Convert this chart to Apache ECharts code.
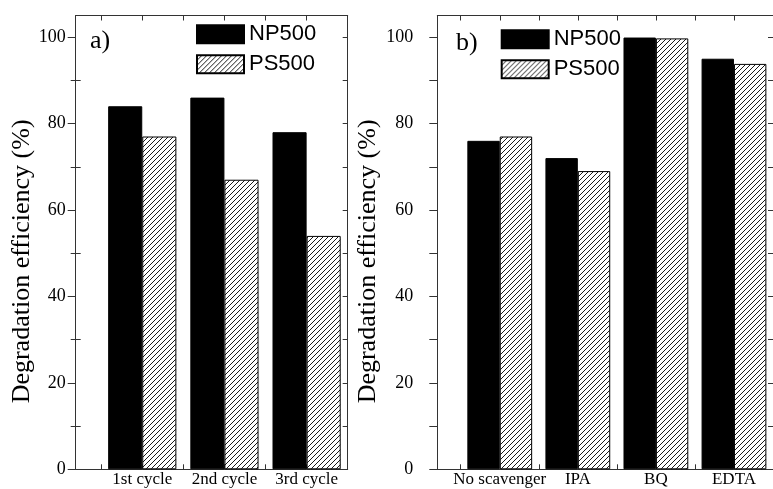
<!DOCTYPE html>
<html><head><meta charset="utf-8">
<script src="https://cdn.jsdelivr.net/npm/echarts@6/dist/echarts.min.js"></script>
<style>html,body{margin:0;padding:0;background:#fff}#c{width:773px;height:489px}</style>
</head><body><div id="c"></div>
<script>
// ---- data ----
const cycleCats = ['1st cycle', '2nd cycle', '3rd cycle'];
const cycleNP500 = [84, 86, 78];
const cyclePS500 = [77, 67, 54];
const scavCats = ['No scavenger', 'IPA', 'BQ', 'EDTA'];
const scavNP500 = [76, 72, 99.9, 95];
const scavPS500 = [77, 69, 99.7, 93.8];
const yMajorTicks = [0, 20, 40, 60, 80, 100];
const yMinorTicks = [10, 30, 50, 70, 90];
const seriesNames = ['NP500', 'PS500'];
const panelLabels = ['a)', 'b)'];
const yAxisTitle = 'Degradation efficiency (%)';

// ---- styles ----
const SERIF = 'Liberation Serif';
const SANS = 'Liberation Sans';
const LINE = '#333';
function hatch() {
  const s = 5, c = document.createElement('canvas');
  c.width = s; c.height = s;
  const g = c.getContext('2d');
  g.fillStyle = '#fff'; g.fillRect(0, 0, s, s);
  g.strokeStyle = '#000'; g.lineWidth = 0.9;
  g.beginPath(); g.moveTo(-1, s + 1); g.lineTo(s + 1, -1); g.stroke();
  g.beginPath(); g.moveTo(-1, 1); g.lineTo(1, -1); g.stroke();
  g.beginPath(); g.moveTo(s - 1, s + 1); g.lineTo(s + 1, s - 1); g.stroke();
  return c;
}
const hatchFill = { image: hatch(), repeat: 'repeat' };
const npStyle = { color: '#000', borderColor: '#000', borderWidth: 1 };
const psStyle = { color: hatchFill, borderColor: '#000', borderWidth: 1 };

const halfSteps = n => { const a = []; for (let v = 0.5; v <= n + 0.001; v += 0.5) a.push(v); return a; };
const idx = n => Array.from({ length: n }, (_, i) => i + 1);
const yAll = [...yMajorTicks, ...yMinorTicks].sort((a, b) => a - b);

const panels = [
  { cats: cycleCats, np: cycleNP500, ps: cyclePS500, left: 75.7, width: 272, xmin: 0.19, xmax: 3.5,
    labelMargin: 10, nameGap: 40, leftTickMode: 'mixed' },
  { cats: scavCats, np: scavNP500, ps: scavPS500, left: 437.3, width: 344, xmin: 0.2, xmax: 4.5,
    labelMargin: 24, nameGap: 56, leftTickMode: 'out' }
];
const gridTop = 15.5, gridHeight = 453.8;

const grid = [], xAxis = [], yAxis = [], series = [];
panels.forEach((p, g) => {
  grid.push({ left: p.left, top: gridTop, width: p.width, height: gridHeight, containLabel: false });
  const xBase = { type: 'value', gridIndex: g, min: p.xmin, max: p.xmax, splitLine: { show: false },
    axisLine: { show: true, onZero: false, lineStyle: { color: LINE, width: 1 } } };
  xAxis.push(Object.assign({}, xBase, {
    position: 'bottom',
    axisTick: { show: true, inside: true, length: 5, customValues: halfSteps(p.cats.length), lineStyle: { color: LINE } },
    axisLabel: { show: true, customValues: idx(p.cats.length), margin: 2,
      formatter: v => p.cats[Math.round(v) - 1] || '',
      fontFamily: SERIF, fontSize: 17, color: '#000' }
  }));
  xAxis.push(Object.assign({}, xBase, {
    position: 'top',
    axisTick: { show: true, inside: true, length: 5, customValues: halfSteps(p.cats.length), lineStyle: { color: LINE } },
    axisLabel: { show: false }
  }));
  const xBottomIdx = xAxis.length - 2;
  const yBase = { type: 'value', gridIndex: g, min: 0, max: 105, splitLine: { show: false } };
  yAxis.push(Object.assign({}, yBase, {
    position: 'left',
    axisLine: { show: true, onZero: false, lineStyle: { color: LINE, width: 1 } },
    axisTick: { show: true, inside: false, length: 8,
      customValues: p.leftTickMode === 'mixed' ? yMajorTicks : yAll, lineStyle: { color: LINE } },
    axisLabel: { show: true, customValues: yMajorTicks, margin: p.labelMargin,
      fontFamily: SERIF, fontSize: 18, color: '#000' },
    name: yAxisTitle, nameLocation: 'middle', nameGap: p.nameGap,
    nameTextStyle: { fontFamily: SERIF, fontSize: 26, color: '#000', padding: [0, 38, 0, 0] }
  }));
  const yMainIdx = yAxis.length - 1;
  if (p.leftTickMode === 'mixed') {
    yAxis.push(Object.assign({}, yBase, {
      position: 'left', axisLine: { show: false }, axisLabel: { show: false },
      axisTick: { show: true, inside: true, length: 5, customValues: yMinorTicks, lineStyle: { color: LINE } }
    }));
    yAxis.push(Object.assign({}, yBase, {
      position: 'left', axisLine: { show: false }, axisLabel: { show: false },
      axisTick: { show: true, inside: false, length: 5, customValues: yMinorTicks, lineStyle: { color: LINE } }
    }));
  }
  yAxis.push(Object.assign({}, yBase, {
    position: 'right',
    axisLine: { show: true, onZero: false, lineStyle: { color: LINE, width: 1 } },
    axisTick: { show: true, inside: true, length: 5, customValues: yAll, lineStyle: { color: LINE } },
    axisLabel: { show: false }
  }));
  series.push({
    name: seriesNames[0], type: 'bar', xAxisIndex: xBottomIdx, yAxisIndex: yMainIdx,
    data: p.np.map((v, i) => [i + 1, v]), barWidth: '41.5%', barGap: '0%',
    itemStyle: npStyle, emphasis: { disabled: true }
  });
  series.push({
    name: seriesNames[1], type: 'bar', xAxisIndex: xBottomIdx, yAxisIndex: yMainIdx,
    data: p.ps.map((v, i) => [i + 1, v]), barWidth: '41.5%', barGap: '0%',
    itemStyle: psStyle, emphasis: { disabled: true }
  });
});

const legendBase = { orient: 'vertical', itemWidth: 47, itemHeight: 18, itemGap: 8, padding: 0,
  selectedMode: false, icon: 'rect', data: seriesNames,
  textStyle: { fontFamily: SANS, fontSize: 22, color: '#000', lineHeight: 18 } };

const option = {
  animation: false,
  backgroundColor: '#fff',
  title: [
    { text: panelLabels[0], left: 90, top: 28, padding: 0,
      textStyle: { fontFamily: SERIF, fontSize: 26, fontWeight: 'normal', color: '#000' } },
    { text: panelLabels[1], left: 456, top: 30, padding: 0,
      textStyle: { fontFamily: SERIF, fontSize: 26, fontWeight: 'normal', color: '#000' } }
  ],
  legend: [
    Object.assign({}, legendBase, { left: 196, top: 23.3 }),
    Object.assign({}, legendBase, { left: 500.7, top: 28.3 })
  ],
  grid, xAxis, yAxis, series
};
const chart = echarts.init(document.getElementById('c'), null, { renderer: 'canvas' });
chart.setOption(option);
</script></body></html>
